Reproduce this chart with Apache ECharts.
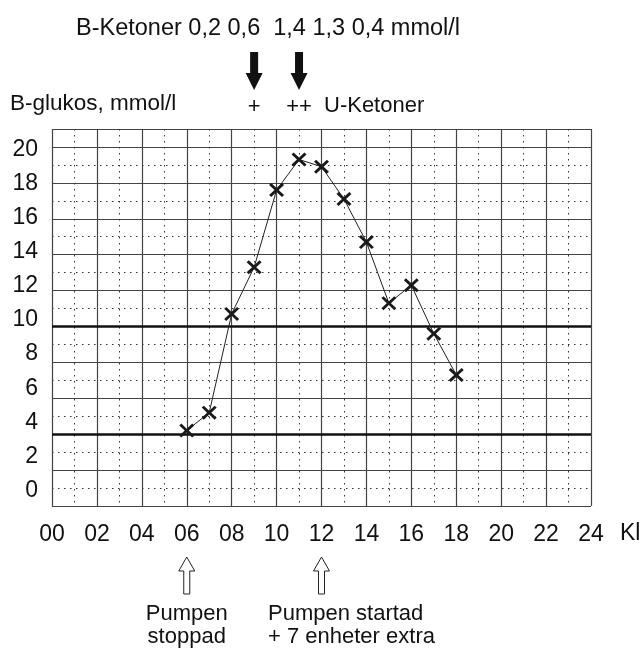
<!DOCTYPE html>
<html lang="sv">
<head>
  <meta charset="UTF-8">
  <title>B-glukos</title>
  <script src="https://cdn.jsdelivr.net/npm/echarts@6/dist/echarts.min.js"></script>
  <style>
    body { margin: 0; background: #fff; }
    #main { width: 640px; height: 651px; }
  </style>
</head>
<body>
  <div id="main"></div>
  <script type="text/javascript">
    // timmar (Kl) och B-glukos, mmol/l
    var hours = [6, 7, 8, 9, 10, 11, 12, 13, 14, 15, 16, 17, 18];
    var glucose = [4.2, 5.2, 10.7, 13.3, 17.6, 19.3, 18.9, 17.1, 14.7, 11.3, 12.3, 9.6, 7.3];
    // gränslinjer
    var limits = [4, 10];
    // axelns etiketter
    var yLabels = [0, 2, 4, 6, 8, 10, 12, 14, 16, 18, 20];
    var xLabels = [0, 2, 4, 6, 8, 10, 12, 14, 16, 18, 20, 22, 24];
    // B-ketoner och U-ketoner
    var bKetoner = ['0,2', '0,6', '1,4', '1,3', '0,4'];
    var uKetonHours = [9, 11];
    var uKetoner = ['+', '++'];
    // pumpen
    var pumpHours = [6, 12];

    var FONT = 'Liberation Sans';
    var xMark = 'path://M0,1.4L1.4,0L5,3.6L8.6,0L10,1.4L6.4,5L10,8.6L8.6,10L5,6.4L1.4,10L0,8.6L3.6,5Z';

    var points = hours.map(function (h, i) { return [h, glucose[i]]; });

    var dotted = { type: [1.5, 4.5], color: '#333', width: 1 };
    var solid = { type: 'solid', color: '#444', width: 1.2 };
    var hidden = { axisLine: { show: false }, axisTick: { show: false }, axisLabel: { show: false } };

    var myChart = echarts.init(document.getElementById('main'));

    var option = {
      animation: false,
      backgroundColor: '#fff',
      grid: { left: 52, right: 49, top: 129, bottom: 145, show: false, outerBoundsMode: 'none' },
      xAxis: [
        Object.assign({ type: 'value', position: 'bottom', min: 0, max: 24, interval: 1, splitLine: { show: true, lineStyle: dotted } }, hidden),
        {
          type: 'value', position: 'bottom', min: 0, max: 24, interval: 2,
          axisLine: { show: false }, axisTick: { show: false },
          splitLine: { show: true, lineStyle: solid },
          axisLabel: {
            show: true, margin: 17, fontSize: 23, fontFamily: FONT, color: '#111',
            customValues: xLabels,
            formatter: function (v) { return (v < 10 ? '0' : '') + v; }
          }
        }
      ],
      yAxis: [
        Object.assign({ type: 'value', position: 'left', min: 0, max: 21, interval: 1, splitLine: { show: true, lineStyle: dotted } }, hidden),
        Object.assign({ type: 'value', position: 'left', min: 0, max: 21, interval: 2, splitLine: { show: true, lineStyle: solid } }, hidden),
        {
          type: 'value', position: 'left', min: -0.894, max: 21.186,
          axisLine: { show: false }, axisTick: { show: false }, splitLine: { show: false },
          axisLabel: {
            show: true, margin: 14, fontSize: 23, fontFamily: FONT, color: '#111',
            customValues: yLabels
          }
        }
      ],
      series: [{
        type: 'line',
        xAxisIndex: 0,
        yAxisIndex: 0,
        data: points,
        symbol: xMark,
        symbolSize: [15, 14],
        symbolKeepAspect: false,
        itemStyle: { color: '#1a1a1a' },
        lineStyle: { color: '#222', width: 1 },
        markLine: {
          silent: true,
          symbol: 'none',
          label: { show: false },
          lineStyle: { color: '#111', width: 2.6, type: 'solid' },
          data: limits.map(function (v) { return { yAxis: v }; })
        },
        z: 5
      }]
    };

    myChart.setOption(option);

    function px(h) { return myChart.convertToPixel({ xAxisIndex: 0 }, h); }

    var graphics = [];
    function txt(text, x, y, align, size) {
      graphics.push({
        type: 'text',
        style: { text: text, x: x, y: y, align: align || 'left', verticalAlign: 'middle', font: (size || 23) + 'px "' + FONT + '"', fill: '#111' },
        z: 10
      });
    }

    txt('B-Ketoner ' + bKetoner.slice(0, 2).join(' ') + '  ' + bKetoner.slice(2).join(' ') + ' mmol/l', 76, 29, 'left', 23.5);
    txt('B-glukos, mmol/l', 10, 104, 'left', 22.5);

    // svarta pilar ner + U-ketoner
    uKetonHours.forEach(function (h, i) {
      var cx = px(h);
      graphics.push({
        type: 'polygon',
        shape: { points: [[cx - 4, 52], [cx + 4, 52], [cx + 4, 73], [cx + 8.5, 73], [cx, 90], [cx - 8.5, 73], [cx - 4, 73]] },
        style: { fill: '#111' },
        z: 10
      });
      txt(uKetoner[i], cx, 107, 'center', 22);
    });
    txt('U-Ketoner', 324, 106, 'left', 22);

    // vita pilar upp
    pumpHours.forEach(function (h) {
      var cx = px(h);
      graphics.push({
        type: 'polygon',
        shape: { points: [[cx, 557], [cx + 8, 571], [cx + 3, 571], [cx + 3, 594], [cx - 3, 594], [cx - 3, 571], [cx - 8, 571]] },
        style: { fill: '#fff', stroke: '#222', lineWidth: 1 },
        z: 10
      });
    });
    txt('Pumpen', px(pumpHours[0]), 614, 'center', 22);
    txt('stoppad', px(pumpHours[0]), 637, 'center', 22);
    txt('Pumpen startad', 268, 614, 'left', 22);
    txt('+ 7 enheter extra', 268, 637, 'left', 22);
    txt('Kl', px(24) + 29, 534);

    myChart.setOption({ graphic: graphics });
  </script>
</body>
</html>
